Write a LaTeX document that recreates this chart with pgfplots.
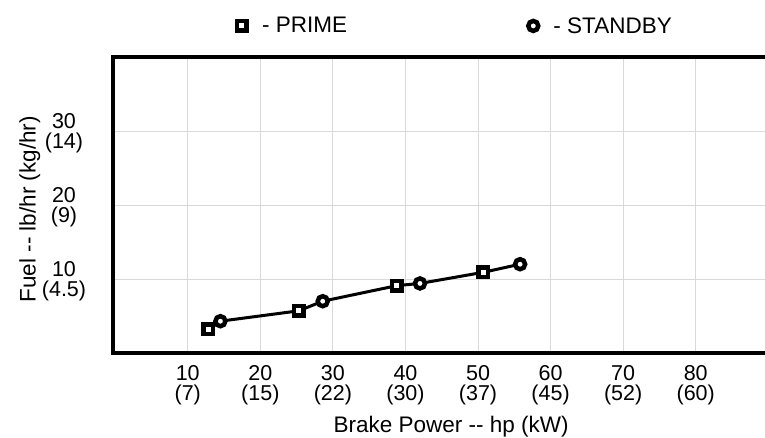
\documentclass[border=0pt]{standalone}
\usepackage{fontspec}
\setmainfont{Liberation Sans}
\usepackage{pgfplots}
\pgfplotsset{compat=1.18}
\begin{document}
\begin{tikzpicture}
  \begin{axis}[
      at={(113pt,84pt)}, anchor=south west,
      scale only axis,
      width=655.3pt, % frame runs past the right edge of the picture
      height=296pt,
      xmin=-0.3, xmax=90,
      ymin=0, ymax=40,
      axis line style={line width=3.2pt, black},
      xtick={10,20,30,40,50,60,70,80},
      ytick={10,20,30},
      major tick length=0pt,
      grid=major,
      grid style={line width=0.8pt, black!15},
      xticklabels={{10\\(7)},{20\\(15)},{30\\(22)},{40\\(30)},{50\\(37)},{60\\(45)},{70\\(52)},{80\\(60)}},
      yticklabels={{10\\(4.5)},{20\\(9)},{30\\(14)}},
      xticklabel style={align=center, yshift=-9pt, font=\fontsize{21.5}{19.5}\selectfont},
      yticklabel style={align=center, anchor=center, xshift=-49pt, yshift=-2pt, font=\fontsize{21.5}{19.5}\selectfont},
      xlabel={Brake Power -{}- hp (kW)},
      xlabel style={at={(axis description cs:0.516,-0.267)}, anchor=base, font=\fontsize{22.5}{26}\selectfont},
      ylabel={Fuel -{}- lb/hr (kg/hr)},
      ylabel style={at={(axis description cs:-0.127,0.486)}, anchor=center, font=\fontsize{22.5}{26}\selectfont},
      legend columns=2,
      legend style={draw=none, fill=none, inner sep=0pt,
          at={(axis description cs:0.1854,1.105)}, anchor=west,
          font=\fontsize{22.5}{26}\selectfont,
          /tikz/every even column/.append style={column sep=177pt}},
      legend image code/.code={\draw[#1] plot coordinates {(7pt,0pt)}; \path (0pt,-6pt) (25pt,6pt);},
  ]
      % fitted fuel line through all points
      \addplot[black, line width=3pt, forget plot] coordinates {
          (12.8,3.2) (14.5,4.3) (25.3,5.7) (28.6,7.0) (38.8,9.1) (42.0,9.4) (50.7,10.9) (55.8,12.0)};
      \addplot[only marks, mark=square*, mark size=4.75pt,
          mark options={fill=white, draw=black, line width=4.5pt}]
      coordinates {(12.8,3.2) (25.3,5.7) (38.8,9.1) (50.7,10.9)};
      \addlegendentry{- PRIME}
      \addplot[only marks, mark=*, mark size=5pt,
          mark options={fill=white, draw=black, line width=4.5pt}]
      coordinates {(14.5,4.3) (28.6,7.0) (42.0,9.4) (55.8,12.0)};
      \addlegendentry{- STANDBY}
  \end{axis}
  \pgfresetboundingbox
  \path[use as bounding box] (0pt,0pt) rectangle (765pt,437pt);
\end{tikzpicture}
\end{document}
